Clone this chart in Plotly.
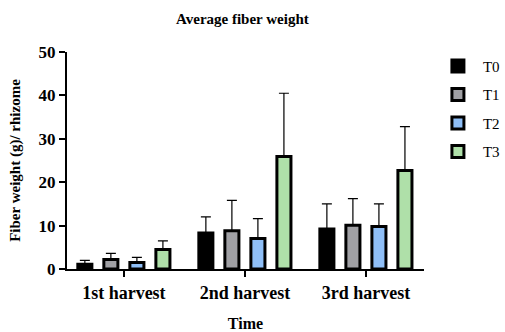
import plotly.graph_objects as go

categories = ["1st harvest", "2nd harvest", "3rd harvest"]
series_names = ["T0", "T1", "T2", "T3"]
means = {
    "T0": [1.1, 8.3, 9.2],
    "T1": [2.2, 8.8, 10.1],
    "T2": [1.5, 7.0, 9.8],
    "T3": [4.5, 25.9, 22.7],
}
errors_up = {
    "T0": [0.9, 3.7, 5.8],
    "T1": [1.4, 7.0, 6.1],
    "T2": [1.2, 4.6, 5.2],
    "T3": [2.0, 14.6, 10.1],
}
colors = {"T0": "#000000", "T1": "#a0a0a4", "T2": "#8fbff7", "T3": "#afe0a9"}

serif = "'Liberation Serif', 'Times New Roman', Times, serif"
fig = go.Figure()
for s in series_names:
    fig.add_trace(go.Bar(
        name=s,
        legendgroup=s,
        x=[0, 1, 2],
        y=means[s],
        marker=dict(color=colors[s], line=dict(color="black", width=3)),
        error_y=dict(type="data", symmetric=False, array=errors_up[s],
                     arrayminus=[0] * len(categories),
                     color="black", thickness=1.2, width=5),
    ))

fig.update_layout(
    width=505, height=332,
    margin=dict(l=67, r=81, t=52, b=63, autoexpand=False),
    paper_bgcolor="white", plot_bgcolor="white",
    barmode="group", bargap=0.14, bargroupgap=0.46,
    title=dict(text="<b>Average fiber weight</b>", x=0.48, xanchor="center",
               y=0.945, yanchor="middle",
               font=dict(family=serif, size=15, color="black")),
    font=dict(family=serif, color="black"),
    legend=dict(x=1.025, xanchor="left", y=1.01, yanchor="top",
                font=dict(family=serif, size=15, color="black"),
                tracegroupgap=6, itemwidth=40, bgcolor="rgba(0,0,0,0)"),
    showlegend=True,
)
fig.update_xaxes(
    range=[-0.47, 2.48], tickmode="array", tickvals=[0, 1, 2],
    ticktext=["<b>%s</b>" % c for c in categories],
    showline=True, linecolor="black", linewidth=2,
    ticks="outside", ticklen=6, tickwidth=2, tickcolor="black",
    showgrid=False, zeroline=False,
    tickfont=dict(family=serif, size=18, color="black"),
    title=dict(text="<b>Time</b>", font=dict(family=serif, size=16, color="black"),
               standoff=16),
)
fig.update_yaxes(
    range=[0, 50], tickmode="array", tickvals=[0, 10, 20, 30, 40, 50],
    ticktext=["<b>%d</b>" % v for v in [0, 10, 20, 30, 40, 50]],
    showline=True, linecolor="black", linewidth=2,
    ticks="outside", ticklen=6, tickwidth=2, tickcolor="black",
    showgrid=False, zeroline=False,
    tickfont=dict(family=serif, size=17, color="black"),
    title=dict(text="<b>Fiber weight (g)/ rhizome</b>",
               font=dict(family=serif, size=15, color="black"), standoff=14),
)
fig.write_html("out.html", post_script="document.body.style.margin='0px';",
               config={"displayModeBar": False})
